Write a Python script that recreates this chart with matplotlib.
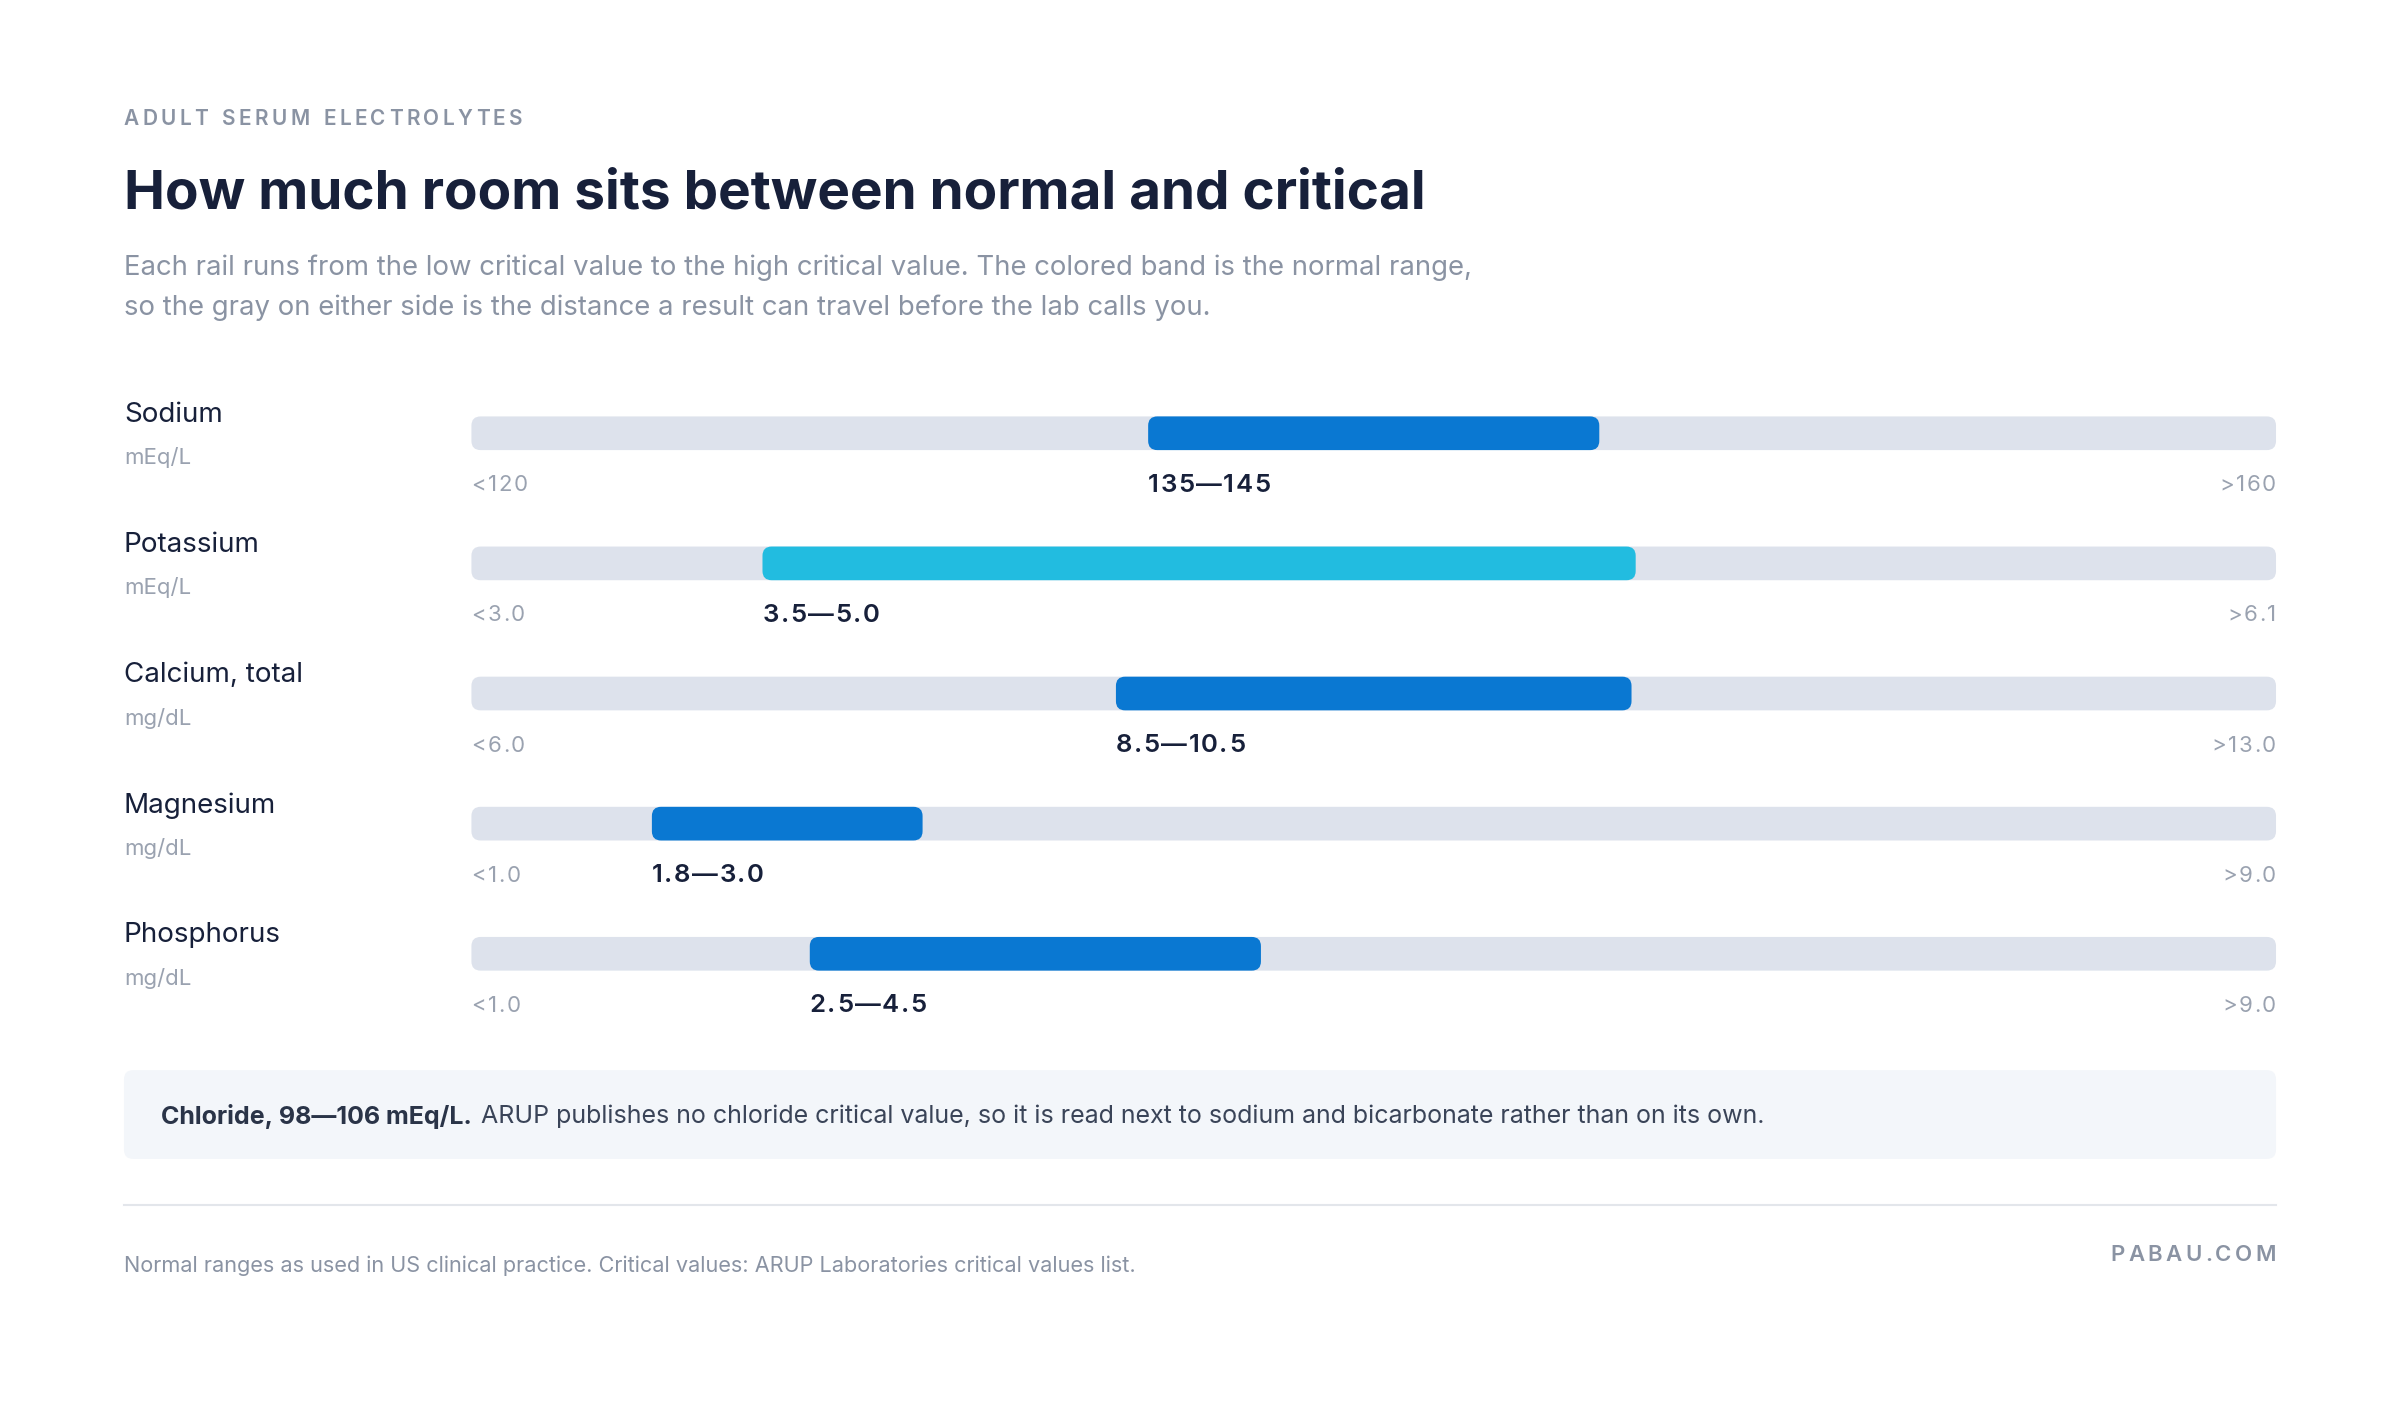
import matplotlib.pyplot as plt
from matplotlib.patches import FancyBboxPatch

plt.rcParams['font.family'] = ['Inter', 'DejaVu Sans']

analytes = ["Sodium", "Potassium", "Calcium, total", "Magnesium", "Phosphorus"]
units = ["mEq/L", "mEq/L", "mg/dL", "mg/dL", "mg/dL"]
crit_low = [120, 3.0, 6.0, 1.0, 1.0]
crit_high = [160, 6.1, 13.0, 9.0, 9.0]
norm_low = [135, 3.5, 8.5, 1.8, 2.5]
norm_high = [145, 5.0, 10.5, 3.0, 4.5]
low_labels = ["<120", "<3.0", "<6.0", "<1.0", "<1.0"]
high_labels = [">160", ">6.1", ">13.0", ">9.0", ">9.0"]
norm_labels = ["135\u2014145", "3.5\u20145.0", "8.5\u201410.5", "1.8\u20143.0", "2.5\u20144.5"]
band_colors = ["#0A78D2", "#22BCE0", "#0A78D2", "#0A78D2", "#0A78D2"]

W, H = 1568, 921
fig = plt.figure(figsize=(24, 14.1), dpi=100)
ax = fig.add_axes([0, 0, 1, 1])
ax.set_xlim(0, W)
ax.set_ylim(H, 0)
ax.axis('off')

dark = "#17203A"
grey = "#8A93A3"
light = "#9AA2B0"
rail_x0, rail_x1 = 308, 1487
rh = 22
inv = ax.transData.inverted()


def text_width(t):
    fig.canvas.draw()
    bb = t.get_window_extent()
    return inv.transform((bb.x1, 0))[0] - inv.transform((bb.x0, 0))[0]


def spaced(x, y, s, track, ha='left', **kw):
    # draw char by char to get letter spacing
    arts, widths = [], []
    for ch in s:
        t = ax.text(0, y, ch, va='center', **kw)
        arts.append(t)
        widths.append(text_width(t) if ch != ' ' else None)
    sp = kw.get('fontsize', 12) * 0.3
    widths = [w if w is not None else sp for w in widths]
    total = sum(widths) + track * (len(s) - 1)
    cx = x if ha == 'left' else x - total
    for t, w in zip(arts, widths):
        t.set_x(cx)
        cx += w + track


spaced(81, 78, "ADULT SERUM ELECTROLYTES", 2.2, fontsize=15, color=grey, weight='semibold')
ax.text(81, 127, "How much room sits between normal and critical", fontsize=39.5,
        color=dark, weight='bold', va='center')
ax.text(81, 175, "Each rail runs from the low critical value to the high critical value. The colored band is the normal range,",
        fontsize=19.8, color=grey, va='center')
ax.text(81, 201, "so the gray on either side is the distance a result can travel before the lab calls you.",
        fontsize=19.8, color=grey, va='center')


def rbox(x0, x1, yc, color):
    p = FancyBboxPatch((x0 + 6, yc - rh / 2 + 6), x1 - x0 - 12, rh - 12,
                       boxstyle="round,pad=6", fc=color, ec='none')
    ax.add_patch(p)


for i, name in enumerate(analytes):
    yc = 283 + 85 * i
    ax.text(81, yc - 12, name, fontsize=20, color=dark, va='center')
    ax.text(81, yc + 16, units[i], fontsize=16, color=light, va='center')
    rbox(rail_x0, rail_x1, yc, "#DDE2EC")
    span = crit_high[i] - crit_low[i]
    x0 = rail_x0 + (norm_low[i] - crit_low[i]) / span * (rail_x1 - rail_x0)
    x1 = rail_x0 + (norm_high[i] - crit_low[i]) / span * (rail_x1 - rail_x0)
    rbox(x0, x1, yc, band_colors[i])
    spaced(rail_x0, yc + 34, low_labels[i], 1.0, fontsize=16, color=light)
    spaced(rail_x1, yc + 34, high_labels[i], 1.0, ha='right', fontsize=16, color=light)
    spaced(x0, yc + 34, norm_labels[i], 1.0, fontsize=18.5, color=dark, weight='semibold')

note = FancyBboxPatch((87, 705), 1394, 46, boxstyle="round,pad=6", fc="#F3F6FA", ec='none')
ax.add_patch(note)
t = ax.text(105, 729, "Chloride, 98\u2014106 mEq/L.", fontsize=18, color="#2A3448",
            weight='bold', va='center')
xe = 105 + text_width(t)
ax.text(xe + 6, 729, "ARUP publishes no chloride critical value, so it is read next to sodium and bicarbonate rather than on its own.",
        fontsize=18, color="#3A4458", va='center')

ax.plot([81, 1487], [787, 787], color="#E3E6EB", lw=1.5)
ax.text(81, 827, "Normal ranges as used in US clinical practice. Critical values: ARUP Laboratories critical values list.",
        fontsize=15.6, color=grey, va='center')
spaced(1487, 820, "PABAU.COM", 2.2, ha='right', fontsize=16, color=grey, weight='semibold')

fig.savefig("out.png", dpi=100, facecolor='white')
